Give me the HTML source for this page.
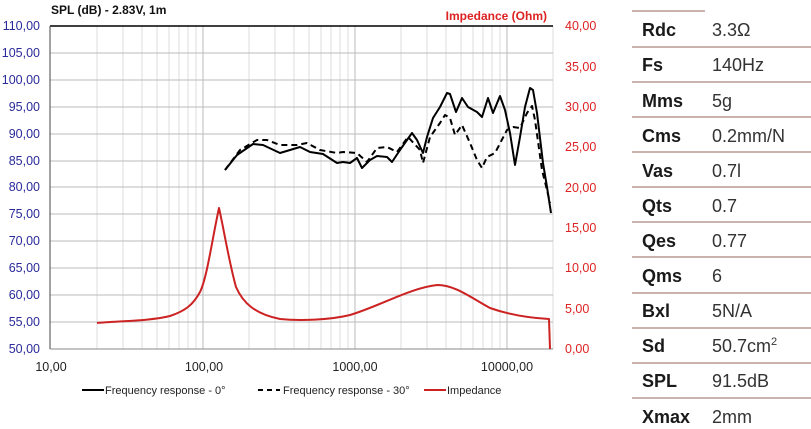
<!DOCTYPE html>
<html><head><meta charset="utf-8"><style>
body{margin:0;background:#fff;width:811px;height:429px;overflow:hidden;font-family:"Liberation Sans",sans-serif;}
svg{position:absolute;left:0;top:0}
</style></head><body>
<svg width="811" height="429" xmlns="http://www.w3.org/2000/svg">
<g stroke="#ddd" stroke-width="1">
<line x1="97" y1="26" x2="97" y2="349"/><line x1="123" y1="26" x2="123" y2="349"/><line x1="142" y1="26" x2="142" y2="349"/><line x1="157" y1="26" x2="157" y2="349"/><line x1="169" y1="26" x2="169" y2="349"/><line x1="179" y1="26" x2="179" y2="349"/><line x1="188" y1="26" x2="188" y2="349"/><line x1="196" y1="26" x2="196" y2="349"/>
<line x1="249" y1="26" x2="249" y2="349"/><line x1="275" y1="26" x2="275" y2="349"/><line x1="294" y1="26" x2="294" y2="349"/><line x1="309" y1="26" x2="309" y2="349"/><line x1="321" y1="26" x2="321" y2="349"/><line x1="331" y1="26" x2="331" y2="349"/><line x1="340" y1="26" x2="340" y2="349"/><line x1="348" y1="26" x2="348" y2="349"/>
<line x1="401" y1="26" x2="401" y2="349"/><line x1="427" y1="26" x2="427" y2="349"/><line x1="446" y1="26" x2="446" y2="349"/><line x1="461" y1="26" x2="461" y2="349"/><line x1="473" y1="26" x2="473" y2="349"/><line x1="483" y1="26" x2="483" y2="349"/><line x1="492" y1="26" x2="492" y2="349"/><line x1="500" y1="26" x2="500" y2="349"/>
<line x1="553" y1="26" x2="553" y2="349"/>
</g>
<g stroke="#bbb" stroke-width="1">
<line x1="203" y1="26" x2="203" y2="349"/><line x1="355" y1="26" x2="355" y2="349"/><line x1="507" y1="26" x2="507" y2="349"/>
<line x1="50" y1="53" x2="553" y2="53"/><line x1="50" y1="80" x2="553" y2="80"/><line x1="50" y1="107" x2="553" y2="107"/><line x1="50" y1="134" x2="553" y2="134"/><line x1="50" y1="161" x2="553" y2="161"/><line x1="50" y1="187" x2="553" y2="187"/><line x1="50" y1="214" x2="553" y2="214"/><line x1="50" y1="241" x2="553" y2="241"/><line x1="50" y1="268" x2="553" y2="268"/><line x1="50" y1="295" x2="553" y2="295"/><line x1="50" y1="322" x2="553" y2="322"/>
</g>
<line x1="50" y1="26" x2="553" y2="26" stroke="#000" stroke-width="1.5"/>
<line x1="50" y1="26" x2="50" y2="349" stroke="#444" stroke-width="1"/>
<line x1="50" y1="349" x2="553" y2="349" stroke="#888" stroke-width="1"/>
<g font-size="12.5" fill="#2a2a9a" text-anchor="end">
<text x="40" y="30">110,00</text><text x="40" y="57">105,00</text><text x="40" y="84">100,00</text><text x="40" y="111">95,00</text><text x="40" y="138">90,00</text><text x="40" y="165">85,00</text><text x="40" y="191">80,00</text><text x="40" y="218">75,00</text><text x="40" y="245">70,00</text><text x="40" y="272">65,00</text><text x="40" y="299">60,00</text><text x="40" y="326">55,00</text><text x="40" y="353">50,00</text>
</g>
<g font-size="12.5" fill="#d22" text-anchor="start">
<text x="565" y="30">40,00</text><text x="565" y="71">35,00</text><text x="565" y="111">30,00</text><text x="565" y="151">25,00</text><text x="565" y="192">20,00</text><text x="565" y="232">15,00</text><text x="565" y="272">10,00</text><text x="565" y="313">5,00</text><text x="565" y="353">0,00</text>
</g>
<g font-size="12.5" fill="#222" text-anchor="middle">
<text x="51" y="371">10,00</text><text x="204" y="371">100,00</text><text x="355" y="371">1000,00</text><text x="507" y="371">10000,00</text>
</g>
<text x="51" y="14" font-size="12" font-weight="bold" fill="#111">SPL (dB) - 2.83V, 1m</text>
<text x="547" y="20" font-size="12" font-weight="bold" fill="#d22" text-anchor="end">Impedance (Ohm)</text>
<path fill="none" stroke="#cc2222" stroke-width="2" stroke-linejoin="round" d="M97,323 C120,321 150,321 170,316 C185,311 193,305 200,292 C207,278 212,240 219,208 C224,230 229,262 236,287 C243,303 255,314 280,319 C300,321 330,320 350,315 C380,306 410,288 437,285 C455,285 470,297 490,308 C510,315 530,318 549,319 L550,349"/>
<polyline fill="none" stroke="#000" stroke-width="2" stroke-linejoin="round" stroke-dasharray="6,4" points="225,170 240,150 257,140 267,140 280,145 297,145 307,143 320,150 337,153 343,152 357,153 367,162 377,148 387,147 397,152 408,137 420,150 423,163 430,137 440,123 445,115 450,118 455,135 462,125 470,143 477,160 482,168 487,157 495,153 507,130 513,127 520,128 527,113 532,106 535,120 542,170 547,190 550,203"/>
<polyline fill="none" stroke="#000" stroke-width="2" stroke-linejoin="round" points="225,170 237,155 253,144 263,145 280,153 290,150 300,147 310,152 323,154 337,163 343,162 350,163 357,158 362,168 370,160 377,156 387,157 392,162 400,150 407,140 412,133 417,140 423,153 427,137 433,118 440,107 447,93 450,94 456,112 462,98 468,107 477,112 482,117 488,98 493,113 500,96 505,110 510,133 515,165 520,137 525,107 530,88 533,90 537,113 543,163 547,187 551,213"/>
<g font-size="11" fill="#222">
<line x1="82" y1="390" x2="104" y2="390" stroke="#000" stroke-width="2"/><text x="105" y="394">Frequency response - 0°</text>
<line x1="258" y1="390" x2="280" y2="390" stroke="#000" stroke-width="2" stroke-dasharray="5,4"/><text x="283" y="394">Frequency response - 30°</text>
<line x1="424" y1="390" x2="446" y2="390" stroke="#cc2222" stroke-width="2"/><text x="447" y="394">Impedance</text>
</g>
<g stroke="#b89a90" stroke-width="1.5">
<line x1="632" y1="11" x2="705" y2="11"/>
<line x1="632" y1="47" x2="811" y2="47"/><line x1="632" y1="82" x2="811" y2="82"/><line x1="632" y1="117" x2="811" y2="117"/><line x1="632" y1="152" x2="811" y2="152"/><line x1="632" y1="187" x2="811" y2="187"/><line x1="632" y1="222" x2="811" y2="222"/><line x1="632" y1="257" x2="811" y2="257"/><line x1="632" y1="293" x2="811" y2="293"/><line x1="632" y1="328" x2="811" y2="328"/><line x1="632" y1="363" x2="811" y2="363"/><line x1="632" y1="398" x2="811" y2="398"/>
</g>
<g font-size="18" font-weight="bold" fill="#1a1a1a">
<text x="642" y="36">Rdc</text><text x="642" y="71">Fs</text><text x="642" y="107">Mms</text><text x="642" y="142">Cms</text><text x="642" y="177">Vas</text><text x="642" y="212">Qts</text><text x="642" y="247">Qes</text><text x="642" y="282">Qms</text><text x="642" y="317">Bxl</text><text x="642" y="352">Sd</text><text x="642" y="387">SPL</text><text x="642" y="423">Xmax</text>
</g>
<g font-size="18" fill="#333">
<text x="712" y="36">3.3Ω</text><text x="712" y="71">140Hz</text><text x="712" y="107">5g</text><text x="712" y="142">0.2mm/N</text><text x="712" y="177">0.7l</text><text x="712" y="212">0.7</text><text x="712" y="247">0.77</text><text x="712" y="282">6</text><text x="712" y="317">5N/A</text><text x="712" y="352">50.7cm<tspan font-size="11" dy="-7">2</tspan></text><text x="712" y="387">91.5dB</text><text x="712" y="423">2mm</text>
</g>
</svg>
</body></html>
